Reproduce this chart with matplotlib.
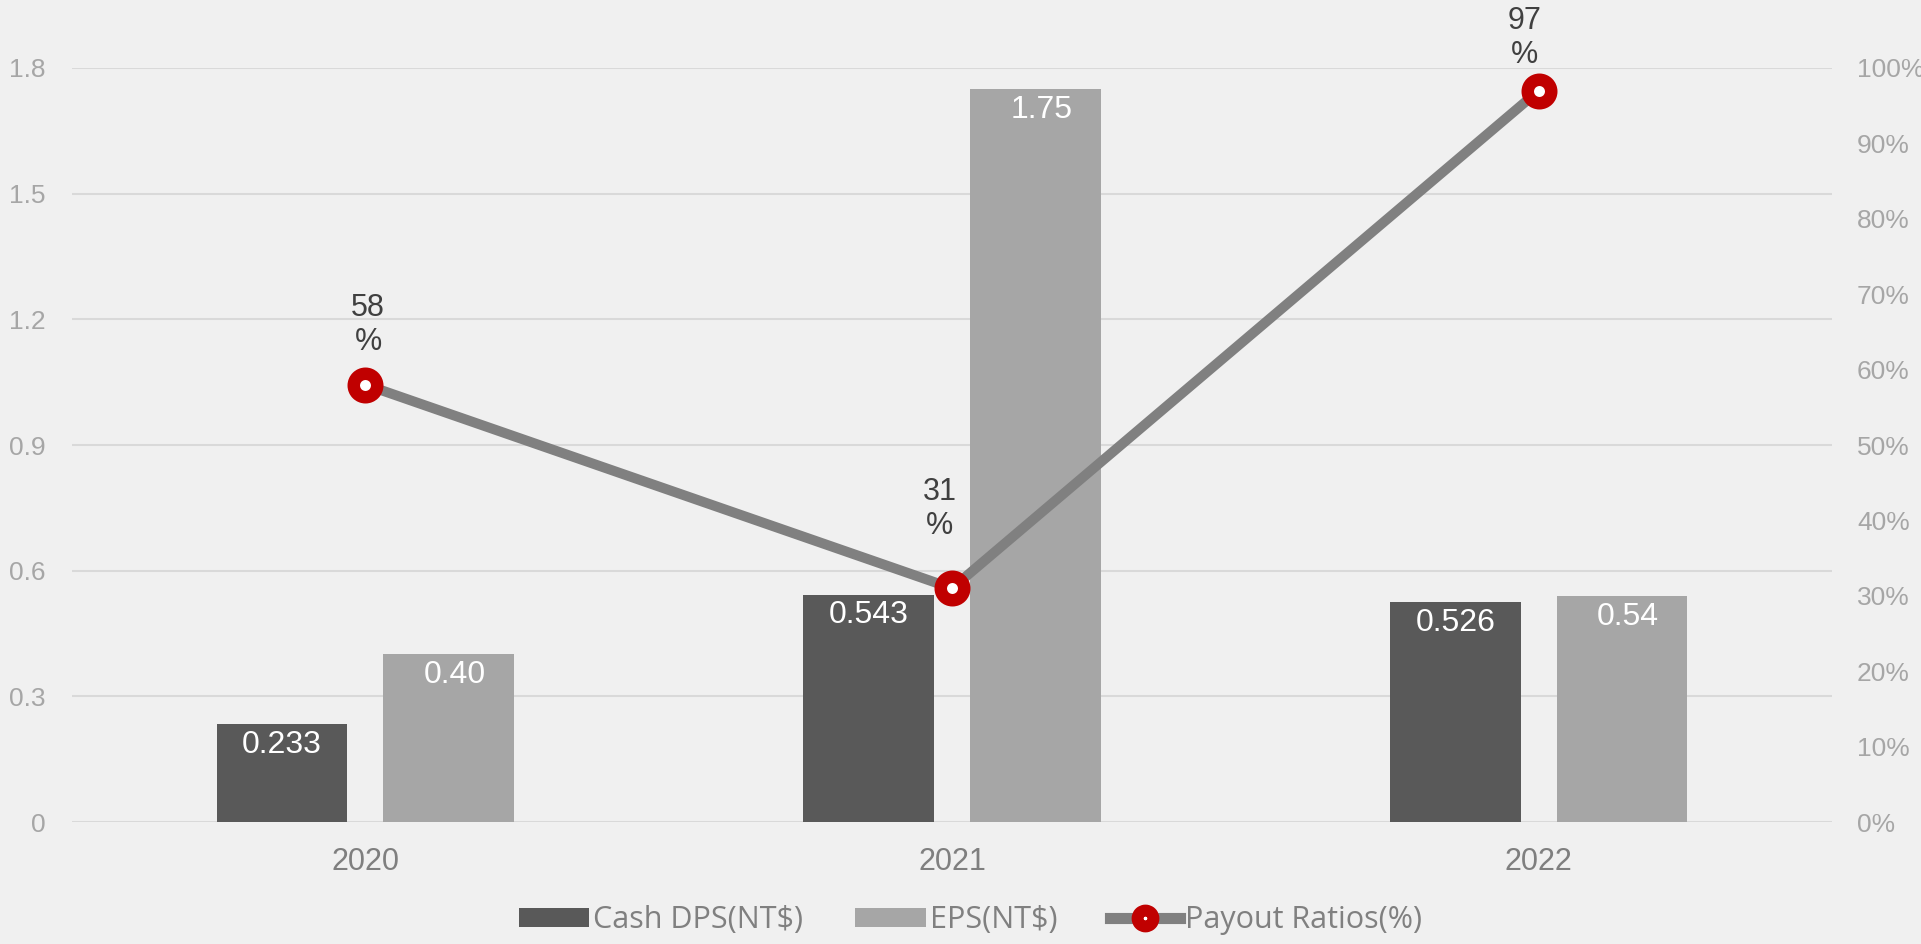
import numpy as np
import matplotlib
matplotlib.use('Agg')
import matplotlib.pyplot as plt
from matplotlib.patches import Patch
from matplotlib.lines import Line2D
from matplotlib.ticker import FixedLocator

# chart data
years = ['2020', '2021', '2022']
cash_dps = [0.233, 0.543, 0.526]
eps = [0.40, 1.75, 0.54]
eps_labels = ['0.40', '1.75', '0.54']
payout = [58, 31, 97]

left_ticks = [0, 0.3, 0.6, 0.9, 1.2, 1.5, 1.8]
left_ticklabels = ['0', '0.3', '0.6', '0.9', '1.2', '1.5', '1.8']
right_ticks = [0, 10, 20, 30, 40, 50, 60, 70, 80, 90, 100]

# label placement tweaks (points), like the Excel original
pct_dx = [2, -9, -10]
pct_dy = [43, 57, 38]

dark = '#595959'
light = '#A6A6A6'
line_gray = '#808080'
red = '#C00000'
bg = '#F0F0F0'

plt.rcParams['font.family'] = ['Liberation Sans', 'DejaVu Sans']

fig = plt.figure(figsize=(19.21, 9.44), dpi=100, facecolor=bg)
ax = fig.add_axes([0.0375, 0.1292, 0.9162, 0.7988])
ax.set_facecolor(bg)

x = np.arange(len(years))
width = 0.223
off = 0.142

b1 = ax.bar(x - off, cash_dps, width, color=dark, zorder=2)
b2 = ax.bar(x + off, eps, width, color=light, zorder=2)

for rect, v in zip(b1, cash_dps):
    ax.annotate(f'{v:.3f}', (rect.get_x() + rect.get_width() / 2, v),
                xytext=(0, -15), textcoords='offset points',
                ha='center', va='center', color='white', fontsize=23)
for rect, lab in zip(b2, eps_labels):
    ax.annotate(lab, (rect.get_x() + rect.get_width() / 2 + 0.01, rect.get_height()),
                xytext=(0, -15), textcoords='offset points',
                ha='center', va='center', color='white', fontsize=23)

ax.set_xlim(-0.5, 2.5)
ax.set_ylim(0, 1.8)
ax.yaxis.set_major_locator(FixedLocator(left_ticks))
ax.set_yticklabels(left_ticklabels)
ax.set_xticks(x)
ax.set_xticklabels(years)
ax.grid(axis='y', color='#D9D9D9', linewidth=1.5, zorder=0)
ax.set_axisbelow(True)
for s in ax.spines.values():
    s.set_visible(False)
ax.tick_params(axis='y', length=0, pad=19, labelsize=19, labelcolor='#A6A6A6')
ax.tick_params(axis='x', length=0, pad=18, labelsize=22, labelcolor='#7F7F7F')

ax2 = ax.twinx()
ax2.set_ylim(0, 100)
ax2.set_xlim(-0.5, 2.5)
ax2.yaxis.set_major_locator(FixedLocator(right_ticks))
ax2.set_yticklabels([f'{t}%' for t in right_ticks])
for s in ax2.spines.values():
    s.set_visible(False)
ax2.tick_params(axis='y', length=0, pad=18, labelsize=19, labelcolor='#A6A6A6')

ax2.plot(x, payout, color=line_gray, linewidth=7.2, zorder=3,
         marker='o', markersize=16.9, markerfacecolor='white',
         markeredgecolor=red, markeredgewidth=9, clip_on=False)

for xi, p, dx, dy in zip(x, payout, pct_dx, pct_dy):
    ax2.annotate(f'{p}\n%', (xi, p), xytext=(dx, dy), textcoords='offset points',
                 ha='center', va='center', color='#404040', fontsize=22,
                 linespacing=1.15, annotation_clip=False)

handles = [
    Patch(facecolor=dark, edgecolor='none'),
    Patch(facecolor=light, edgecolor='none'),
    Line2D([0], [0], color=line_gray, linewidth=8, marker='o', markersize=11.5,
           markerfacecolor='white', markeredgecolor=red, markeredgewidth=8.5),
]
labels = ['Cash DPS(NT$)', 'EPS(NT$)', 'Payout Ratios(%)']
leg = fig.legend(handles, labels, loc='center', bbox_to_anchor=(0.505, 0.025),
                 ncol=3, frameon=False, handlelength=2.3, handleheight=0.56,
                 handletextpad=0.15, columnspacing=1.7,
                 prop={'family': ['Open Sans', 'DejaVu Sans'], 'size': 22})
for t in leg.get_texts():
    t.set_color('#808080')

fig.savefig('out.png', dpi=100, facecolor=bg)
